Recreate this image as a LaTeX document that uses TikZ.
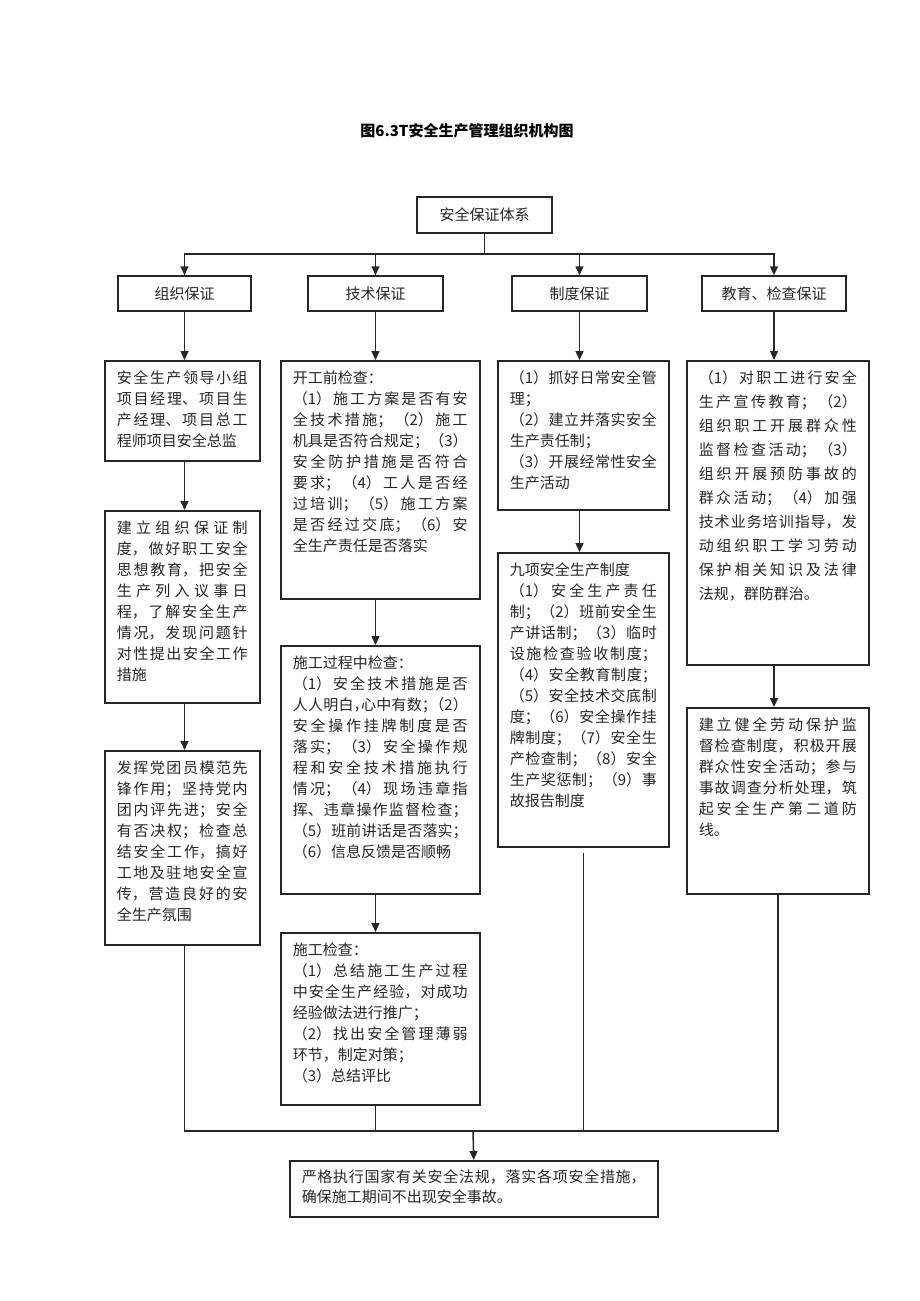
\documentclass[tikz,border=0pt]{standalone}
\usepackage{fontspec}
\newfontfamily\cjk{Noto Sans CJK SC}
\usetikzlibrary{arrows.meta}
\XeTeXlinebreaklocale "zh"
\XeTeXlinebreakskip=0pt plus 1fil
\newcommand\rbr{\hfill\break}
\newcommand\hfw[1]{\makebox[.5em][l]{#1}}
\newcommand\celltxt[3]{\parbox[t][#2pt][t]{#1pt}{\parfillskip=0pt plus 1fill\relax #3}}

\begin{document}
\begin{tikzpicture}[x=1pt, y=-1pt,
    wire/.style={line width=1.5pt, draw=black!85},
    arr/.style={wire, -{Triangle[length=9pt,width=8pt]}},
    head/.style={wire, font=\cjk\fontsize{15}{18}\selectfont, text=black!85, minimum height=35pt, inner sep=0pt},
    body/.style={wire, anchor=north west, inner xsep=12pt, inner ysep=10pt, font=\cjk\fontsize{15}{21}\selectfont, text=black!85}]
    \useasboundingbox (0,0) rectangle (920,1301);

    \node[font=\cjk\bfseries\fontsize{15}{18}\selectfont] (title) at (467,131) {图6.3T安全生产管理组织机构图};

    \node[head, minimum width=135pt, minimum height=36pt] (sys) at (484.5,215) {安全保证体系};
    \node[head, minimum width=133pt] (org) at (184.5,293.5) {组织保证};
    \node[head, minimum width=135pt] (tech) at (375.5,293.5) {技术保证};
    \node[head, minimum width=135pt] (rule) at (579.5,293.5) {制度保证};
    \node[head, minimum width=144pt] (edu) at (774,293.5) {教育、检查保证};

    % organisation column
    \node[body] (org1) at (104,360) {\celltxt{131}{80}{安全生产领导小组\break
        项目经理、项目生\break
        产经理、项目总工\break
        程师项目安全总监}};
    \node[body] (org2) at (104,510) {\celltxt{131}{172}{建立组织保证制\break
        度，做好职工安全\break
        思想教育，把安全\break
        生产列入议事日\break
        程，了解安全生产\break
        情况，发现问题针\break
        对性提出安全工作\break
        措施}};
    \node[body] (org3) at (104,750) {\celltxt{131}{174}{发挥党团员模范先\break
        锋作用；坚持党内\break
        团内评先进；安全\break
        有否决权；检查总\break
        结安全工作，搞好\break
        工地及驻地安全宣\break
        传，营造良好的安\break
        全生产氛围}};

    % technical column
    \node[body] (tech1) at (280,360) {\celltxt{175}{218}{开工前检查：\rbr
        （1）施工方案是否有安\break
        全技术措施；（2）施工\break
        机具是否符合规定；（3）\break
        安全防护措施是否符合\break
        要求；（4）工人是否经\break
        过培训；（5）施工方案\break
        是否经过交底；（6）安\break
        全生产责任是否落实}};
    \node[body] (tech2) at (280,645) {\celltxt{175}{228}{施工过程中检查：\rbr
        （1）安全技术措施是否\break
        人人明白\hfw{，}心中有数\hfw{；}（2）\break
        安全操作挂牌制度是否\break
        落实；（3）安全操作规\break
        程和安全技术措施执行\break
        情况；（4）现场违章指\break
        挥、违章操作监督检查；\break
        （5）班前讲话是否落实；\break
        （6）信息反馈是否顺畅}};
    \node[body] (tech3) at (280,932) {\celltxt{175}{152}{施工检查：\rbr
        （1）总结施工生产过程\break
        中安全生产经验，对成功\break
        经验做法进行推广；\rbr
        （2）找出安全管理薄弱\break
        环节，制定对策；\rbr
        （3）总结评比}};

    % rules column
    \node[body] (rule1) at (497,360) {\celltxt{147}{129}{（1）抓好日常安全管\break
        理；\rbr
        （2）建立并落实安全\break
        生产责任制；\rbr
        （3）开展经常性安全\break
        生产活动}};
    \node[body] (rule2) at (497,552) {\celltxt{147}{274}{九项安全生产制度\rbr
        （1）安全生产责任\break
        制；（2）班前安全生\break
        产讲话制；（3）临时\break
        设施检查验收制度；\break
        （4）安全教育制度；\break
        （5）安全技术交底制\break
        度；（6）安全操作挂\break
        牌制度；（7）安全生\break
        产检查制；（8）安全\break
        生产奖惩制；（9）事\break
        故报告制度}};

    % education column
    \node[body, font=\cjk\fontsize{15}{24}\selectfont] (edu1) at (686,360) {\celltxt{158}{284}{（1）对职工进行安全\break
        生产宣传教育；（2）\break
        组织职工开展群众性\break
        监督检查活动；（3）\break
        组织开展预防事故的\break
        群众活动；（4）加强\break
        技术业务培训指导，发\break
        动组织职工学习劳动\break
        保护相关知识及法律\break
        法规，群防群治。}};
    \node[body] (edu2) at (686,707) {\celltxt{158}{166}{建立健全劳动保护监\break
        督检查制度，积极开展\break
        群众性安全活动；参与\break
        事故调查分析处理，筑\break
        起安全生产第二道防\break
        线。}};

    \node[body, inner ysep=9pt, font=\cjk\fontsize{15}{20}\selectfont] (goal) at (289,1160) {\celltxt{344}{38}{严格执行国家有关安全法规，落实各项安全措施，\break
        确保施工期间不出现安全事故。}};

    \coordinate (bus) at (473,1131);

    \foreach \n in {org,tech,rule,edu}
        \draw[arr] (sys.south) -- ++(0,20) -| (\n.north);

    \draw[arr] (org.south) -- (org1.north -| org);
    \draw[arr] (org1.south -| org) -- (org2.north -| org);
    \draw[arr] (org2.south -| org) -- (org3.north -| org);
    \draw[arr] (tech.south) -- (tech1.north -| tech);
    \draw[arr] (tech1.south -| tech) -- (tech2.north -| tech);
    \draw[arr] (tech2.south -| tech) -- (tech3.north -| tech);
    \draw[arr] (rule.south) -- (rule1.north -| rule);
    \draw[arr] (rule1.south -| rule) -- (rule2.north -| rule);
    \draw[arr] (edu.south) -- (edu1.north -| edu);
    \draw[arr] (edu1.south -| edu) -- (edu2.north -| edu);

    \draw[wire] (org3.south -| org) |- (edu2.south |- bus) -- (edu2.south);
    \draw[wire] (tech3.south -| tech) -- (bus -| tech);
    \draw[wire] ([yshift=-5pt]rule2.south) -- (bus -| rule2.south);
    \draw[arr] (bus) -- (goal.north);
\end{tikzpicture}
\end{document}
